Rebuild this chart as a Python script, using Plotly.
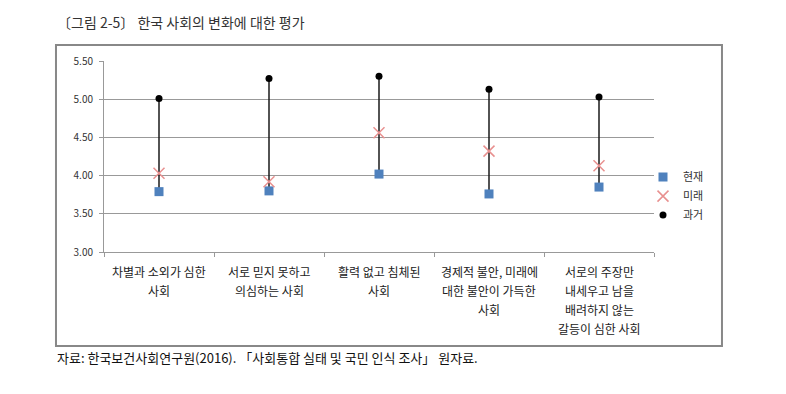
import plotly.graph_objects as go

categories = ["cat1", "cat2", "cat3", "cat4", "cat5"]
category_lines = [
    ["차별과 소외가 심한", "사회"],
    ["서로 믿지 못하고", "의심하는 사회"],
    ["활력 없고 침체된", "사회"],
    ["경제적 불안, 미래에", "대한 불안이 가득한", "사회"],
    ["서로의 주장만", "내세우고 남을", "배려하지 않는", "갈등이 심한 사회"],
]
current = [3.79, 3.80, 4.02, 3.76, 3.85]   # 현재
future = [4.03, 3.92, 4.56, 4.32, 4.13]    # 미래
past = [5.01, 5.27, 5.30, 5.13, 5.03]      # 과거
y_ticks = [3.00, 3.50, 4.00, 4.50, 5.00, 5.50]

FONT = "Noto Sans CJK KR"

fig = go.Figure()

# high-low lines
hx, hy = [], []
for c, vals in zip(categories, zip(current, future, past)):
    hx += [c, c, None]
    hy += [max(vals), min(vals), None]
fig.add_trace(go.Scatter(x=hx, y=hy, mode="lines", line=dict(color="#1a1a1a", width=1.5),
                         showlegend=False, hoverinfo="skip"))

fig.add_trace(go.Scatter(x=categories, y=current, mode="markers", name="현재",
                         marker=dict(symbol="square", size=9, color="#4F81BD")))
fig.add_trace(go.Scatter(x=categories, y=future, mode="markers", name="미래",
                         marker=dict(symbol="x-thin-open", size=11,
                                     line=dict(color="#E8908F", width=1.5), color="#E8908F")))
fig.add_trace(go.Scatter(x=categories, y=past, mode="markers", name="과거",
                         marker=dict(symbol="circle", size=7, color="#000000")))

annotations = []
for c, lines in zip(categories, category_lines):
    for i, line in enumerate(lines):
        annotations.append(dict(x=c, xref="x", y=0, yref="paper", text=line, showarrow=False,
                                yanchor="middle", xanchor="center", yshift=-19 - 19 * i,
                                font=dict(family=FONT, size=12, color="#222")))
annotations.append(dict(x=-0.089, xref="paper", y=1.0, yref="paper", yshift=39,
                        text="〔그림 2-5〕 한국 사회의 변화에 대한 평가", showarrow=False,
                        xanchor="left", yanchor="middle",
                        font=dict(family=FONT, size=14, color="#333")))
annotations.append(dict(x=-0.089, xref="paper", y=0, yref="paper", yshift=-105,
                        text="자료: 한국보건사회연구원(2016). 「사회통합 실태 및 국민 인식 조사」 원자료.",
                        showarrow=False, xanchor="left", yanchor="middle",
                        font=dict(family=FONT, size=13, color="#111")))

# page body has an 8px margin: shrink figure and margins to compensate
fig.update_layout(
    width=778, height=386,
    margin=dict(l=96, r=132, t=53, b=142),
    paper_bgcolor="white", plot_bgcolor="white",
    font=dict(family=FONT, size=11, color="#333"),
    showlegend=True,
    legend=dict(x=0.98, y=0.468, xanchor="left", yanchor="top",
                font=dict(family=FONT, size=11, color="#333"),
                itemwidth=30, tracegroupgap=0, bgcolor="rgba(0,0,0,0)"),
    xaxis=dict(type="category", categoryorder="array", categoryarray=categories,
               showticklabels=False, showgrid=False, showline=True, linecolor="#999",
               linewidth=1, ticks="outside", ticklen=4, tickcolor="#999",
               tickson="boundaries", range=[-0.5, 4.5]),
    yaxis=dict(range=[3.0, 5.5], tickvals=y_ticks, tickformat=".2f",
               showgrid=True, gridcolor="#999", gridwidth=1,
               showline=True, linecolor="#999", linewidth=1,
               ticks="outside", ticklen=4, tickcolor="#999", ticklabelstandoff=4,
               tickfont=dict(family=FONT, size=10, color="#333"), zeroline=False),
    annotations=annotations,
    shapes=[dict(type="rect", xref="paper", yref="paper",
                 x0=-0.0873, x1=1.1236, y0=-0.492, y1=1.0838,
                 line=dict(color="#888", width=2), fillcolor="rgba(0,0,0,0)", layer="below")],
)

fig.write_html("out.html")
